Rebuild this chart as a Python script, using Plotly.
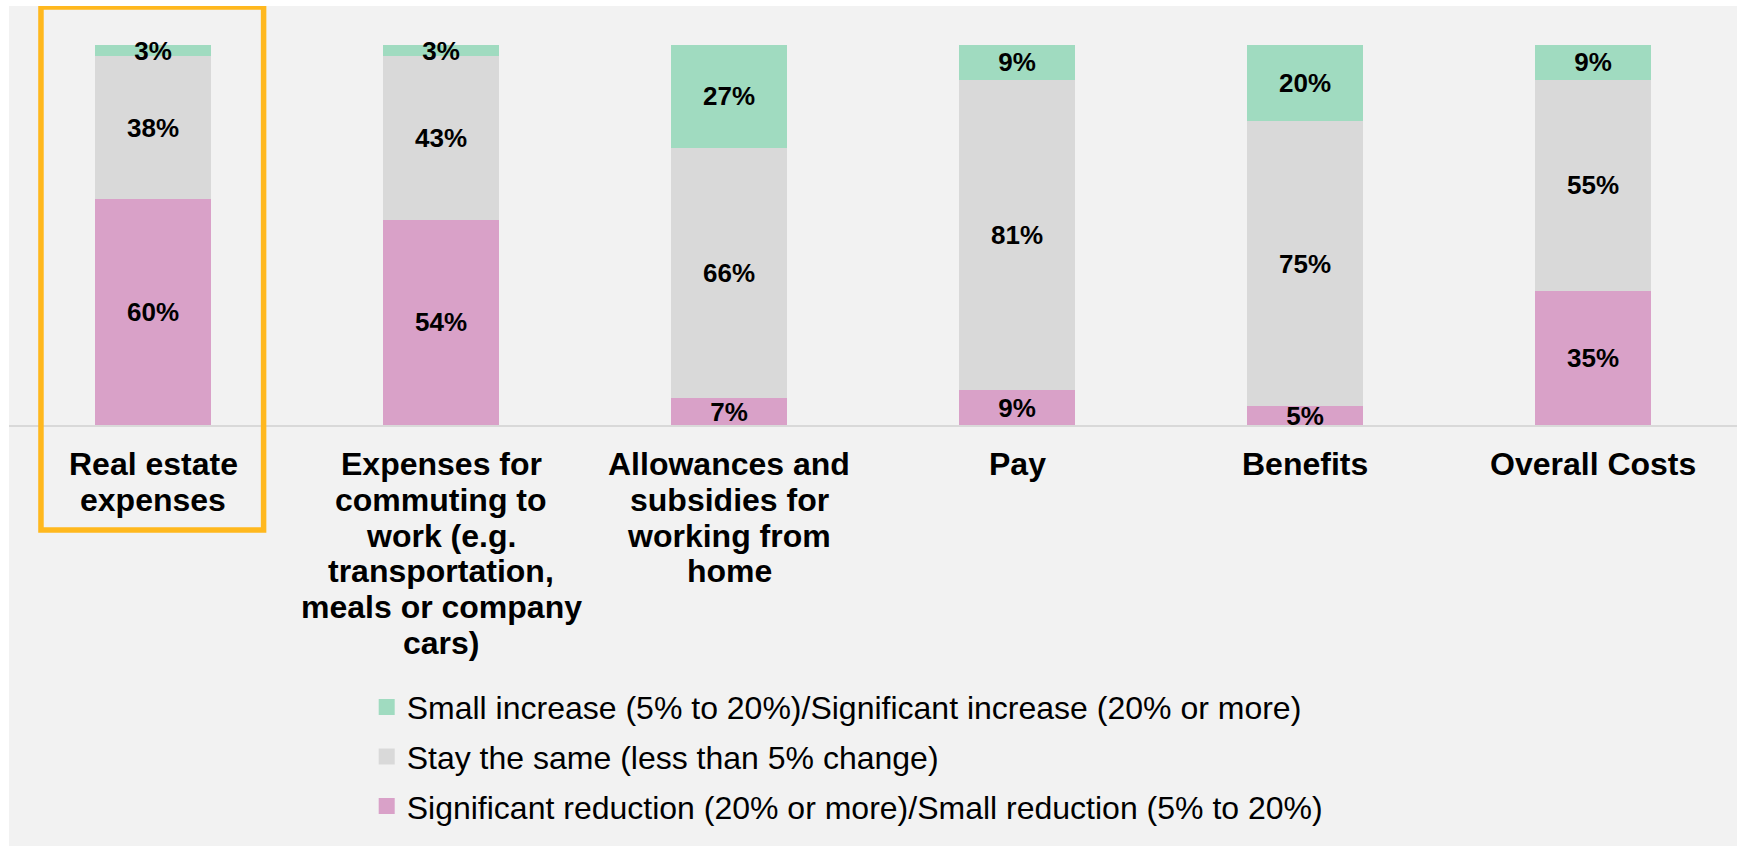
import plotly.graph_objects as go

# ---- data ----
categories = [
    "Real estate expenses",
    "Expenses for commuting to work (e.g. transportation, meals or company cars)",
    "Allowances and subsidies for working from home",
    "Pay",
    "Benefits",
    "Overall Costs",
]
label_lines = [
    ["Real estate", "expenses"],
    ["Expenses for", "commuting to", "work (e.g.", "transportation,", "meals or company", "cars)"],
    ["Allowances and", "subsidies for", "working from", "home"],
    ["Pay"],
    ["Benefits"],
    ["Overall Costs"],
]
reduction = [60, 54, 7, 9, 5, 35]
same = [38, 43, 66, 81, 75, 55]
increase = [3, 3, 27, 9, 20, 9]

name_increase = "Small increase (5% to 20%)/Significant increase (20% or more)"
name_same = "Stay the same (less than 5% change)"
name_reduction = "Significant reduction (20% or more)/Small reduction (5% to 20%)"

col_increase = "#A0DBC0"
col_same = "#D9D9D9"
col_reduction = "#D9A1C8"
bg = "#F2F2F2"
FONT = "Liberation Sans, Arial, sans-serif"

fig = go.Figure()

for vals, name, col in [(reduction, name_reduction, col_reduction),
                        (same, name_same, col_same),
                        (increase, name_increase, col_increase)]:
    fig.add_trace(go.Bar(
        x=categories, y=vals, name=name, marker=dict(color=col, line=dict(width=0)),
        text=[f"{v}%" for v in vals], textposition="inside", insidetextanchor="middle",
        textangle=0, constraintext="none", cliponaxis=False,
        textfont=dict(family=FONT, size=26, color="black", weight="bold"),
        insidetextfont=dict(family=FONT, size=26, color="black", weight="bold"),
        showlegend=False, hoverinfo="skip",
    ))

# legend entries
for i, (name, col) in enumerate([(name_increase, col_increase),
                                 (name_same, col_same),
                                 (name_reduction, col_reduction)]):
    fig.add_trace(go.Scatter(
        x=[None], y=[None], mode="markers", name=name, legendgroup=f"g{i}",
        marker=dict(symbol="square", size=16, color=col, line=dict(width=0)),
        showlegend=True,
    ))

# category labels (one annotation per line, tight line spacing)
for cat, lines in zip(categories, label_lines):
    for i, line in enumerate(lines):
        fig.add_annotation(
            x=cat, y=0, xref="x", yref="y", text=line, showarrow=False,
            xanchor="center", yanchor="middle", yshift=-(39 + 35.8 * i),
            font=dict(family=FONT, size=32, color="black", weight="bold"),
        )

# highlight box around first category
fig.add_shape(type="rect", xref="x", yref="paper",
              x0=-0.389, x1=0.384, y0=-0.276, y1=1.1,
              line=dict(color="#FFB81E", width=5.5), layer="above")

fig.update_layout(
    width=1728, height=840,
    margin=dict(l=0, r=0, t=39, b=421, pad=0),
    paper_bgcolor=bg, plot_bgcolor=bg,
    barmode="stack", barnorm="percent", bargap=0.6,
    font=dict(family=FONT, color="black"),
    showlegend=True,
    legend=dict(
        orientation="v", x=0.207, xanchor="left", y=-0.67, yanchor="top",
        font=dict(family=FONT, size=32, color="black"),
        bgcolor="rgba(0,0,0,0)", tracegroupgap=5, traceorder="grouped",
        itemclick=False,
    ),
    xaxis=dict(showticklabels=False, ticks="", showgrid=False, zeroline=False,
               showline=True, linecolor="#D9D9D9", linewidth=2,
               range=[-0.5, 5.5], fixedrange=True),
    yaxis=dict(range=[0, 100.001], visible=False, showgrid=False, zeroline=False, fixedrange=True),
)

fig.write_html(
    "out.html",
    config={"displayModeBar": False},
    post_script="document.body.style.margin='6px 0 0 9px';document.body.style.overflow='hidden';",
)
